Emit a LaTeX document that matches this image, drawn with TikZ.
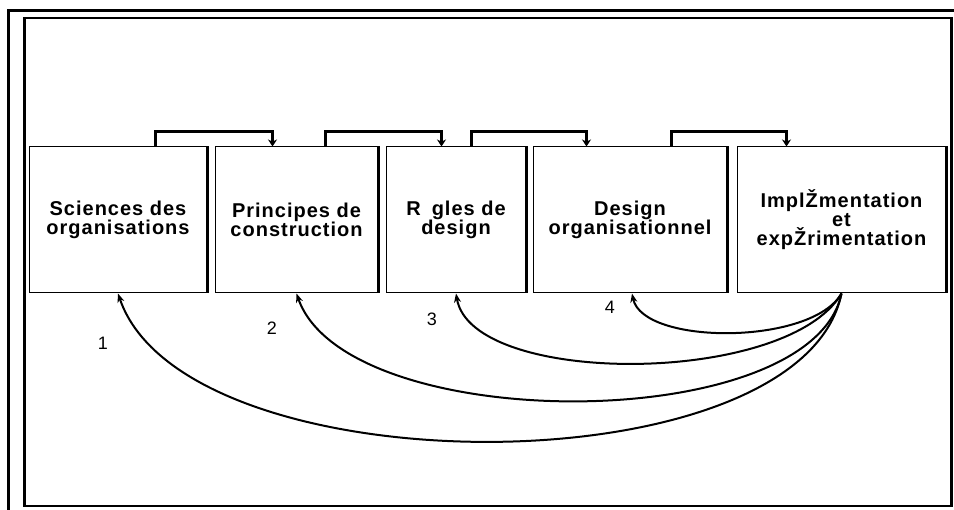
\documentclass[tikz,border=0pt]{standalone}
\usepackage{fontspec}
\setmainfont{Liberation Sans}
\newfontfamily\boxfont{Liberation Sans}[LetterSpace=5]
\usetikzlibrary{arrows.meta}
\begin{document}
\begin{tikzpicture}[x=1pt,y=-1pt,
  box/.style={draw, line width=1pt, minimum height=146pt, inner sep=0pt, align=center,
    font=\boxfont\bfseries\fontsize{20}{19}\selectfont},
  edge/.style={line width=2.2pt},
  brk/.style={line width=2.6pt, -{Stealth[length=7pt,width=9pt]}},
  arc/.style={line width=2pt, -{Stealth[length=9pt,width=7pt]}},
  num/.style={font=\fontsize{18}{20}\selectfont}]
\useasboundingbox (0,0) rectangle (954,510);
% frames
\draw[line width=3pt] (8.5,510) -- (8.5,10.5) -- (954,10.5);
\draw[line width=2.2pt] (24.5,18) rectangle (951.5,506);
% boxes
\node[box, minimum width=178pt] (b1) at (118,220) {Sciences des\\organisations};
\node[box, minimum width=163pt] (b2) at (296.5,220) {Principes de\\construction};
\node[box, minimum width=140pt] (b3) at (456,220) {R\hspace{11pt}gles de\\design};
\node[box, minimum width=194pt] (b4) at (630,220) {Design\\organisationnel};
\node[box, minimum width=209pt] (b5) at (841.5,220) {ImplŽmentation\\et\\expŽrimentation};
\foreach \b in {b1,b2,b3,b4,b5}{
  \draw[edge] (\b.north east) -- (\b.south east);
}
% top brackets
\draw[brk] ([xshift=127pt]b1.north west) -- ++(0,-15) -| ([xshift=58pt]b2.north west);
\draw[brk] ([xshift=111pt]b2.north west) -- ++(0,-15) -| ([xshift=56pt]b3.north west);
\draw[brk] ([xshift=86pt]b3.north west) -- ++(0,-15) -| ([xshift=54pt]b4.north west);
\draw[brk] ([xshift=139pt]b4.north west) -- ++(0,-15) -| ([xshift=50pt]b5.north west);
% feedback arcs
\draw[arc] (b5.south) .. controls +(-40,197) and +(67,197) .. (b1.south);
\draw[arc] (b5.south) .. controls +(-30,143) and +(50,143) .. (b2.south);
\draw[arc] (b5.south) .. controls +(-55,93) and +(16,93) .. (b3.south);
\draw[arc] (b5.south) .. controls +(-30,52) and +(11,52) .. ([xshift=2pt]b4.south);
% labels
\node[num] (n1) at (103,343) {1};
\node[num] (n2) at (272,328) {2};
\node[num] (n3) at (432,319) {3};
\node[num] (n4) at (610,307) {4};
\end{tikzpicture}
\end{document}
